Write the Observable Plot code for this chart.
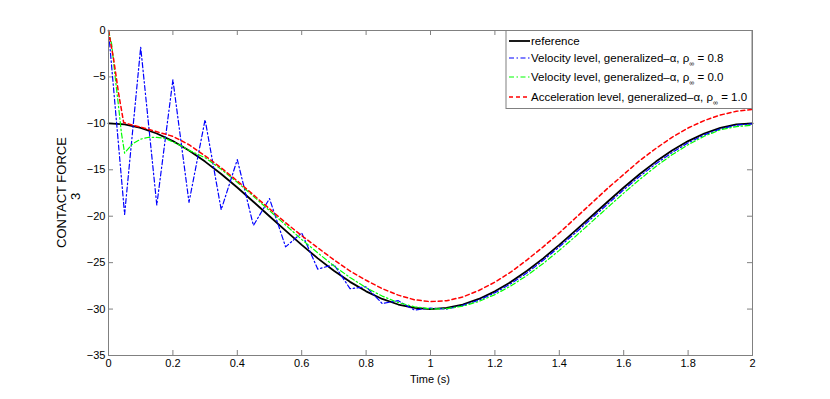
<!DOCTYPE html>
<html><head><meta charset="utf-8">
<script src="https://cdn.jsdelivr.net/npm/d3@7"></script>
<script src="https://cdn.jsdelivr.net/npm/@observablehq/plot@0.6"></script>
<style>body{margin:0;background:#fff} svg{display:block}</style>
</head><body><div id="chart"></div>
<script>
// ---- data ----
const timeGrid = [0,0.05,0.1,0.15,0.2,0.25,0.3,0.35,0.4,0.45,0.5,0.55,0.6,0.65,0.7,0.75,0.8,0.85,0.9,0.95,1.0,
  1.05,1.1,1.15,1.2,1.25,1.3,1.35,1.4,1.45,1.5,1.55,1.6,1.65,1.7,1.75,1.8,1.85,1.9,1.95,2.0];
const referenceForce = [-10,-10.12,-10.49,-11.09,-11.91,-12.93,-14.12,-15.46,-16.91,-18.44,-20,-21.56,-23.09,-24.54,-25.88,-27.07,-28.09,-28.91,-29.51,-29.88,-30,
  -29.88,-29.51,-28.91,-28.09,-27.07,-25.88,-24.54,-23.09,-21.56,-20,-18.44,-16.91,-15.46,-14.12,-12.93,-11.91,-11.09,-10.49,-10.12,-10];
const velocity08Force = [0,-19.8,-1.8,-18.8,-5.3,-18.5,-9.6,-19.3,-13.9,-21.0,-18.1,-23.3,-21.8,-25.7,-25.2,-27.8,-27.6,-29.4,-29.1,-30.1,-29.9,
  -30.0,-29.6,-29.05,-28.25,-27.25,-26.1,-24.75,-23.3,-21.8,-20.25,-18.7,-17.15,-15.7,-14.35,-13.15,-12.1,-11.25,-10.6,-10.2,-10.05];
const velocity00Time = [0,0.01,0.02,0.03,0.04,0.05,0.075,0.1,0.125,0.15,0.175,0.2,0.225,0.25,0.3,0.35,0.4,0.45,0.5,0.55,0.6,0.65,0.7,0.75,0.8,0.85,0.9,0.95,1.0,
  1.05,1.1,1.15,1.2,1.25,1.3,1.35,1.4,1.45,1.5,1.55,1.6,1.65,1.7,1.75,1.8,1.85,1.9,1.95,2.0];
const velocity00Force = [0,-1.5,-4.8,-7.8,-11.0,-13.2,-12.2,-11.7,-11.5,-11.5,-11.6,-12.0,-12.4,-12.9,-13.7,-14.95,-16.35,-17.85,-19.4,-20.95,-22.5,-23.95,-25.35,-26.6,-27.7,-28.6,-29.3,-29.75,-29.98,
  -29.96,-29.69,-29.18,-28.44,-27.5,-26.37,-25.09,-23.68,-22.18,-20.63,-19.06,-17.51,-16.03,-14.64,-13.39,-12.3,-11.39,-10.7,-10.35,-10.2];
const accel10Time = [0,0.016,0.031,0.047,0.075,0.1,0.15,0.2,0.25,0.3,0.35,0.4,0.45,0.5,0.55,0.6,0.65,0.7,0.75,0.8,0.85,0.9,0.95,1.0,
  1.05,1.1,1.15,1.2,1.25,1.3,1.35,1.4,1.45,1.5,1.55,1.6,1.65,1.7,1.75,1.8,1.85,1.9,1.95,2.0];
const accel10Force = [0,-3.1,-6.7,-9.9,-10.2,-10.4,-10.9,-11.4,-12.3,-13.5,-14.8,-16.2,-17.7,-19.2,-20.7,-22.1,-23.4,-24.7,-25.9,-26.9,-27.8,-28.5,-29.0,-29.2,
  -29.1,-28.7,-28.0,-27.1,-26.0,-24.7,-23.3,-21.8,-20.2,-18.6,-17.0,-15.5,-14.0,-12.7,-11.5,-10.5,-9.7,-9.1,-8.7,-8.5];
const xTicks = [0,0.2,0.4,0.6,0.8,1,1.2,1.4,1.6,1.8,2];
const yTicks = [0,-5,-10,-15,-20,-25,-30,-35];
const seriesNames = ["reference",
  "Velocity level, generalized\u2013\u03B1, \u03C1",
  "Velocity level, generalized\u2013\u03B1, \u03C1",
  "Acceleration level, generalized\u2013\u03B1, \u03C1"];
const seriesTails = ["", " = 0.8", " = 0.0", " = 1.0"];
const xLabel = "Time (s)";
const yLabelLines = ["CONTACT FORCE", "3"];

// ---- build tables ----
const zip = (ts, vs) => ts.map((t, i) => ({t, v: vs[i]}));
const refData = zip(timeGrid, referenceForce);
const v08Data = zip(timeGrid, velocity08Force);
const v00Data = zip(velocity00Time, velocity00Force);
const a10Data = zip(accel10Time, accel10Force);

const styles = [
  {stroke: "#000000", strokeWidth: 1.8, dash: null},
  {stroke: "#0000ff", strokeWidth: 1.2, dash: "5,2.5,1.5,2.5"},
  {stroke: "#00ff00", strokeWidth: 1.2, dash: "5,2.5,1.5,2.5"},
  {stroke: "#ff0000", strokeWidth: 1.5, dash: "4,3"}
];
const datasets = [refData, v08Data, v00Data, a10Data];

const W = 830, H = 399, mL = 108, mR = 78, mT = 30, mB = 44;
const gray = "#808080";
const tickPx = 5;
const tlY = tickPx * 35 / (H - mT - mB);
const tlX = tickPx * 2 / (W - mL - mR);
const FONT = "'Liberation Sans', Arial, Helvetica, sans-serif";

const plot = Plot.plot({
  width: W, height: H,
  marginLeft: mL, marginRight: mR, marginTop: mT, marginBottom: mB,
  style: {fontFamily: FONT, fontSize: "11px", color: "#000", background: "#fff"},
  x: {domain: [0, 2], label: null},
  y: {domain: [-35, 0], label: null},
  marks: [
    Plot.axisX({ticks: xTicks, tickSize: 0, tickPadding: 4, tickFormat: d => String(d), label: null}),
    Plot.axisY({ticks: yTicks, tickSize: 0, tickPadding: 3, tickFormat: d => d < 0 ? "\u2212" + (-d) : String(d), label: null}),
    Plot.ruleX(xTicks, {x: d => d, y1: -35, y2: -35 + tlY, stroke: gray}),
    Plot.ruleX(xTicks, {x: d => d, y1: 0, y2: -tlY, stroke: gray}),
    Plot.ruleY(yTicks, {y: d => d, x1: 0, x2: tlX, stroke: gray}),
    Plot.ruleY(yTicks, {y: d => d, x1: 2 - tlX, x2: 2, stroke: gray}),
    ...datasets.map((d, i) => Plot.line(d, {x: "t", y: "v", stroke: styles[i].stroke,
      strokeWidth: styles[i].strokeWidth, strokeDasharray: styles[i].dash})),
    Plot.frame({stroke: gray, strokeWidth: 1})
  ]
});
document.getElementById("chart").appendChild(plot);

const svg = d3.select(plot);
// axis titles
svg.append("text").attr("x", mL + (W - mL - mR) / 2).attr("y", 383)
  .attr("text-anchor", "middle").attr("font-size", 11).attr("font-family", FONT).text(xLabel);
const yc = mT + (H - mT - mB) / 2;
svg.append("text").attr("transform", `translate(66,${yc}) rotate(-90)`)
  .attr("text-anchor", "middle").attr("font-size", 13).attr("font-family", FONT).text(yLabelLines[0]);
svg.append("text").attr("transform", `translate(80,${yc + 4}) rotate(-90)`)
  .attr("text-anchor", "middle").attr("font-size", 13).attr("font-family", FONT).text(yLabelLines[1]);

// legend
const lg = svg.append("g").attr("font-family", FONT).attr("font-size", 11.5).attr("text-anchor", "start");
lg.append("rect").attr("x", 506).attr("y", 30.5).attr("width", 246).attr("height", 78)
  .attr("fill", "#fff").attr("stroke", gray);
const rowY = [41, 58, 77, 97];
seriesNames.forEach((name, i) => {
  lg.append("line").attr("x1", 509).attr("x2", 530).attr("y1", rowY[i]).attr("y2", rowY[i])
    .attr("stroke", styles[i].stroke).attr("stroke-width", styles[i].strokeWidth)
    .attr("stroke-dasharray", styles[i].dash);
  const tx = lg.append("text").attr("x", 531).attr("y", rowY[i]).attr("dy", "0.35em").attr("text-anchor", "start");
  tx.append("tspan").text(name);
  if (i > 0) {
    tx.append("tspan").attr("font-size", 7).attr("dy", 4).text("\u221E");
    tx.append("tspan").attr("dy", -4).text(seriesTails[i]);
  }
});
</script></body></html>
